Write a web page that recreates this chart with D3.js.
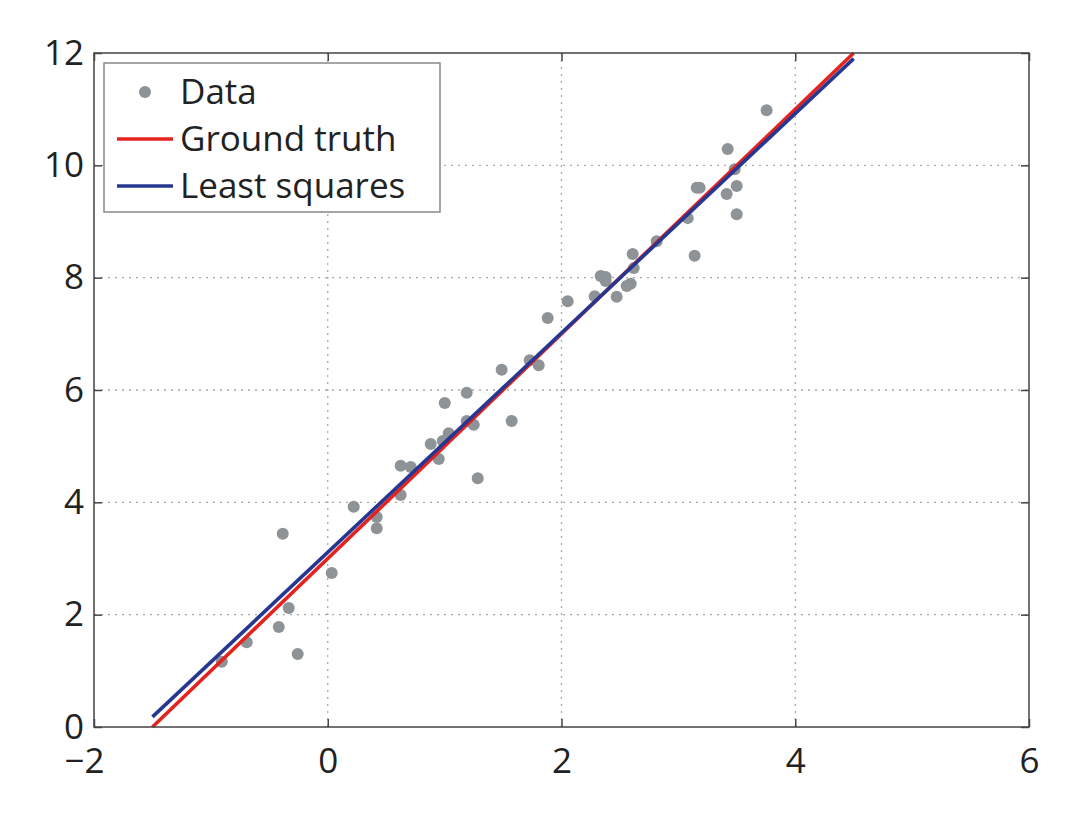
<!DOCTYPE html>
<html>
<head>
<meta charset="utf-8">
<script src="https://cdn.jsdelivr.net/npm/d3@7"></script>
<style>
  html, body { margin: 0; padding: 0; background: #fff; }
  svg { display: block; }
</style>
</head>
<body>
<svg id="chart" width="1087" height="813"></svg>
<script>
// ---- data ----
const dataX = [-0.907, -0.693, -0.385, -0.419, -0.334, -0.257, 0.034, 0.222, 0.419, 0.419,
  0.624, 0.710, 0.624, 0.881, 0.950, 0.984, 1.035, 1.001, 1.189, 1.189,
  1.249, 1.283, 1.488, 1.574, 1.728, 1.805, 1.882, 2.053, 2.284, 2.335,
  2.378, 2.378, 2.472, 2.558, 2.592, 2.609, 2.618, 2.814, 3.080, 3.139,
  3.157, 3.182, 3.422, 3.413, 3.482, 3.499, 3.499, 3.755];
const dataY = [1.16, 1.51, 3.44, 1.78, 2.12, 1.30, 2.74, 3.92, 3.74, 3.54,
  4.65, 4.63, 4.13, 5.04, 4.77, 5.09, 5.23, 5.77, 5.95, 5.45,
  5.38, 4.43, 6.36, 5.45, 6.53, 6.44, 7.28, 7.58, 7.67, 8.03,
  8.01, 7.94, 7.66, 7.85, 7.89, 8.42, 8.17, 8.65, 9.06, 8.39,
  9.60, 9.60, 10.29, 9.49, 9.93, 9.63, 9.13, 10.98];
const lineX = [-1.5, 4.5];
const groundTruthY = [0, 12];
const leastSquaresY = [0.18, 11.9];
const xTicks = [-2, 0, 2, 4, 6];
const yTicks = [0, 2, 4, 6, 8, 10, 12];
const legendLabels = ["Data", "Ground truth", "Least squares"];

// ---- layout ----
const svg = d3.select("#chart");
const L = 94, R = 1029, T = 53, B = 727;
const x = d3.scaleLinear().domain([-2, 6]).range([L, R]);
const y = d3.scaleLinear().domain([0, 12]).range([B, T]);
const font = "'Open Sans', sans-serif";
const fs = 35;
const fmt = d => d < 0 ? "\u2212" + Math.abs(d) : String(d);

// grid
const grid = svg.append("g");
grid.selectAll(".gx").data(xTicks.slice(1, -1)).join("line")
  .attr("x1", d => x(d)).attr("x2", d => x(d)).attr("y1", T).attr("y2", B)
  .attr("stroke", "#a8a8a8").attr("stroke-width", 1.3).attr("stroke-dasharray", "2,5");
grid.selectAll(".gy").data(yTicks.slice(1, -1)).join("line")
  .attr("y1", d => y(d)).attr("y2", d => y(d)).attr("x1", L).attr("x2", R)
  .attr("stroke", "#a8a8a8").attr("stroke-width", 1.3).attr("stroke-dasharray", "2,5");

// axes
const xAxis = d3.axisBottom(x).tickValues(xTicks).tickFormat(fmt).tickSizeInner(-8).tickSizeOuter(0).tickPadding(21);
const yAxis = d3.axisLeft(y).tickValues(yTicks).tickFormat(fmt).tickSizeInner(-8).tickSizeOuter(0).tickPadding(10);
const xTop = d3.axisTop(x).tickValues(xTicks).tickFormat("").tickSizeInner(-8).tickSizeOuter(0);
const yRight = d3.axisRight(y).tickValues(yTicks).tickFormat("").tickSizeInner(-8).tickSizeOuter(0);

function styleAxis(g) {
  g.select(".domain").remove();
  g.selectAll("line").attr("stroke", "#444").attr("stroke-width", 1.5);
  g.selectAll("text").attr("font-family", font).attr("font-size", fs).attr("fill", "#222");
}
svg.append("g").attr("transform", `translate(0,${B})`).call(xAxis).call(styleAxis)
  .selectAll("text").attr("dx", d => d < 0 ? -10 : 0);   // digits centred on tick, minus hangs left
svg.append("g").attr("transform", `translate(${L},0)`).call(yAxis).call(styleAxis);
svg.append("g").attr("transform", `translate(0,${T})`).call(xTop).call(styleAxis);
svg.append("g").attr("transform", `translate(${R},0)`).call(yRight).call(styleAxis);

// data points
const pts = dataX.map((d, i) => [d, dataY[i]]);
svg.append("g").selectAll("circle").data(pts).join("circle")
  .attr("cx", d => x(d[0])).attr("cy", d => y(d[1])).attr("r", 6)
  .attr("fill", "#8e9397");

// lines
const line = d3.line().x(d => x(d[0])).y(d => y(d[1]));
svg.append("path").datum(lineX.map((d, i) => [d, groundTruthY[i]]))
  .attr("d", line).attr("stroke", "#e5231e").attr("stroke-width", 3.6).attr("fill", "none");
svg.append("path").datum(lineX.map((d, i) => [d, leastSquaresY[i]]))
  .attr("d", line).attr("stroke", "#263791").attr("stroke-width", 3.6).attr("fill", "none");

// frame
svg.append("rect").attr("x", L).attr("y", T).attr("width", R - L).attr("height", B - T)
  .attr("fill", "none").attr("stroke", "#444").attr("stroke-width", 1.5);

// legend
const lg = svg.append("g");
lg.append("rect").attr("x", 104).attr("y", 63).attr("width", 336).attr("height", 149)
  .attr("fill", "#fff").attr("stroke", "#888").attr("stroke-width", 1.5);
const rowY = [92, 139, 186];
lg.append("circle").attr("cx", 145).attr("cy", rowY[0]).attr("r", 6).attr("fill", "#8e9397");
lg.append("line").attr("x1", 117).attr("x2", 173).attr("y1", rowY[1]).attr("y2", rowY[1])
  .attr("stroke", "#e5231e").attr("stroke-width", 3.6);
lg.append("line").attr("x1", 117).attr("x2", 173).attr("y1", rowY[2]).attr("y2", rowY[2])
  .attr("stroke", "#263791").attr("stroke-width", 3.6);
lg.selectAll("text").data(legendLabels).join("text")
  .attr("x", 180).attr("y", (d, i) => rowY[i]).attr("dy", "0.35em")
  .attr("font-family", font).attr("font-size", fs).attr("fill", "#222")
  .text(d => d);
</script>
</body>
</html>
